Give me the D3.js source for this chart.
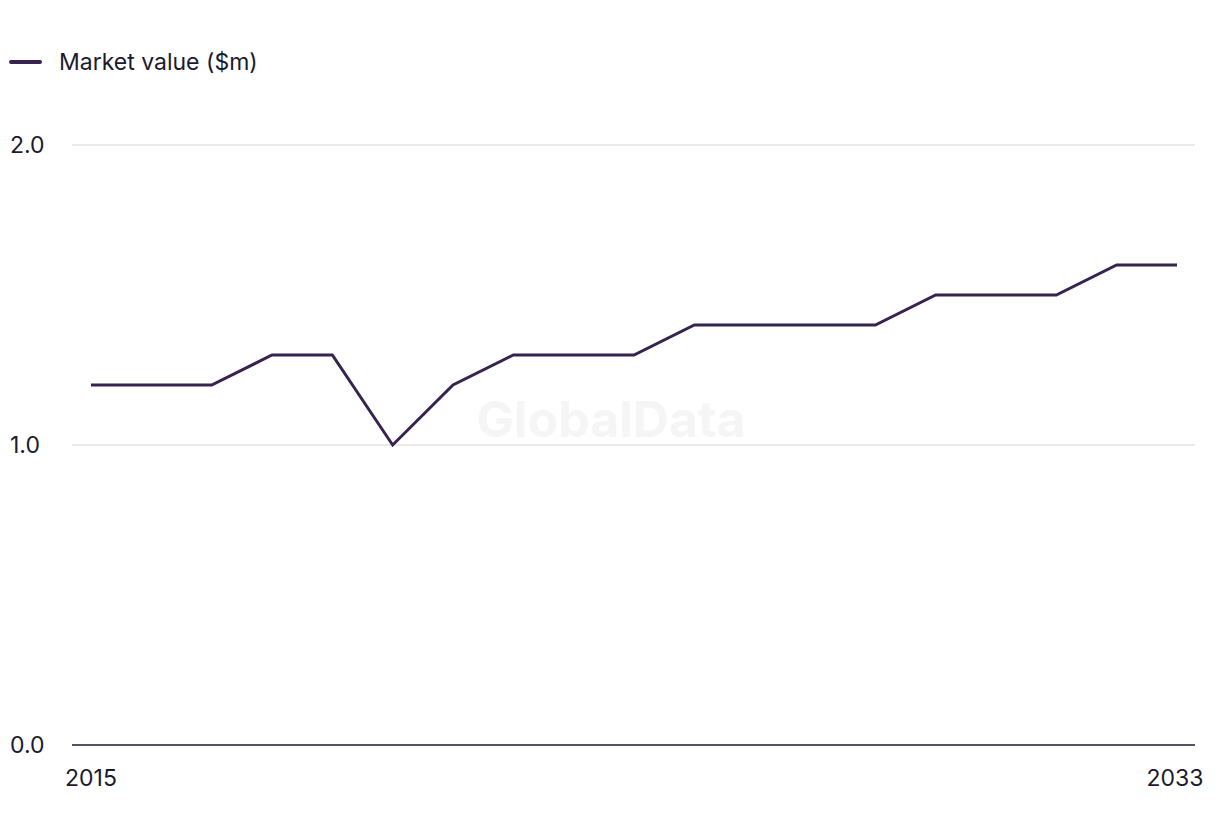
<!DOCTYPE html>
<html><head><meta charset="utf-8">
<script src="https://cdn.jsdelivr.net/npm/d3@7/dist/d3.min.js"></script>
<style>body{margin:0;background:#fff;}svg{display:block;font-family:"Inter","Liberation Sans",sans-serif;}</style>
</head><body>
<svg id="c" width="1220" height="836"></svg>
<script>
const years = [2015,2016,2017,2018,2019,2020,2021,2022,2023,2024,2025,2026,2027,2028,2029,2030,2031,2032,2033];
const marketValue = [1.2,1.2,1.2,1.3,1.3,1.0,1.2,1.3,1.3,1.3,1.4,1.4,1.4,1.4,1.5,1.5,1.5,1.6,1.6];
const yTicks = [0,1,2];
const xTickLabels = [2015,2033];
const seriesName = "Market value ($m)";

const svg = d3.select("#c");
const x = d3.scaleLinear().domain([2015,2033]).range([91,1177]);
const y = d3.scaleLinear().domain([0,2]).range([745,145]);
const lineColor = "#37234f", textColor = "#1b1a2e";

// watermark
svg.append("text").attr("x",611).attr("y",437).attr("text-anchor","middle")
  .attr("font-size",50).attr("font-weight",700).attr("fill","#f5f5f5").text("GlobalData");

// gridlines
svg.append("g").selectAll("line").data(yTicks.filter(d=>d>0)).join("line")
  .attr("x1",72).attr("x2",1195).attr("y1",d=>y(d)).attr("y2",d=>y(d))
  .attr("stroke","#d6d6d9").attr("stroke-width",1.2);
// baseline
svg.append("line").attr("x1",72).attr("x2",1195).attr("y1",y(0)).attr("y2",y(0))
  .attr("stroke",textColor).attr("stroke-width",1.5);

// y labels
svg.append("g").selectAll("text").data(yTicks).join("text")
  .attr("x",10).attr("y",d=>y(d)).attr("dy","0.36em")
  .attr("font-size",23).attr("fill",textColor).text(d=>d3.format(".1f")(d));

// x labels
svg.append("g").selectAll("text").data(xTickLabels).join("text")
  .attr("x",(d,i)=>x(d)-(i===1?2:0)).attr("y",786).attr("text-anchor","middle")
  .attr("font-size",23).attr("fill",textColor).text(d=>d);

// line
const line = d3.line().x((d,i)=>x(years[i])).y(d=>y(d));
svg.append("path").datum(marketValue).attr("d",line)
  .attr("fill","none").attr("stroke",lineColor).attr("stroke-width",3).attr("stroke-linejoin","miter");

// legend
svg.append("line").attr("x1",11).attr("x2",40).attr("y1",62).attr("y2",62)
  .attr("stroke",lineColor).attr("stroke-width",4).attr("stroke-linecap","round");
svg.append("text").attr("x",59).attr("y",62).attr("dy","0.36em")
  .attr("font-size",23).attr("fill",textColor).text(seriesName);
</script>
</body></html>
